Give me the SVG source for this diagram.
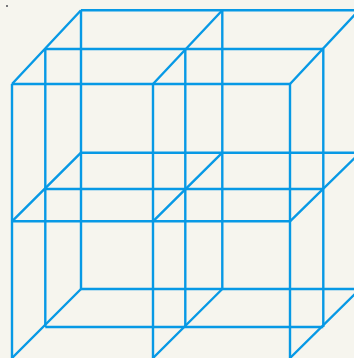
<svg xmlns="http://www.w3.org/2000/svg" width="354" height="358" viewBox="0 0 354 358">
<style>.g{fill:none;stroke:#0799e5;stroke-width:2.4;stroke-linejoin:miter}</style>
<rect width="354" height="358" fill="#f6f5ee"/>
<rect x="6" y="5" width="2" height="2" fill="#77777a"/>
<g id="grid" class="g">
<path d="M81 10.3H360M45.3 49H323.3M12 84H290M81 152.7H360M45.3 189H323.3M12 221.3H290M81 289H360M45.3 327H323.3"/>
<path d="M12 84V360M153 84V360M290 84V360M45.3 49V327M185.3 49V327M323.3 49V327M81 10.3V289M222.3 10.3V289"/>
<path d="M12 84L81 10.3M153 84L222.3 10.3M290 84L360 9M12 221.3L81 152.7M153 221.3L222.3 152.7M290 221.3L360 152.7M12 358L81 289M153 358L222.3 289M290 358L360 289"/>
</g>
</svg>
